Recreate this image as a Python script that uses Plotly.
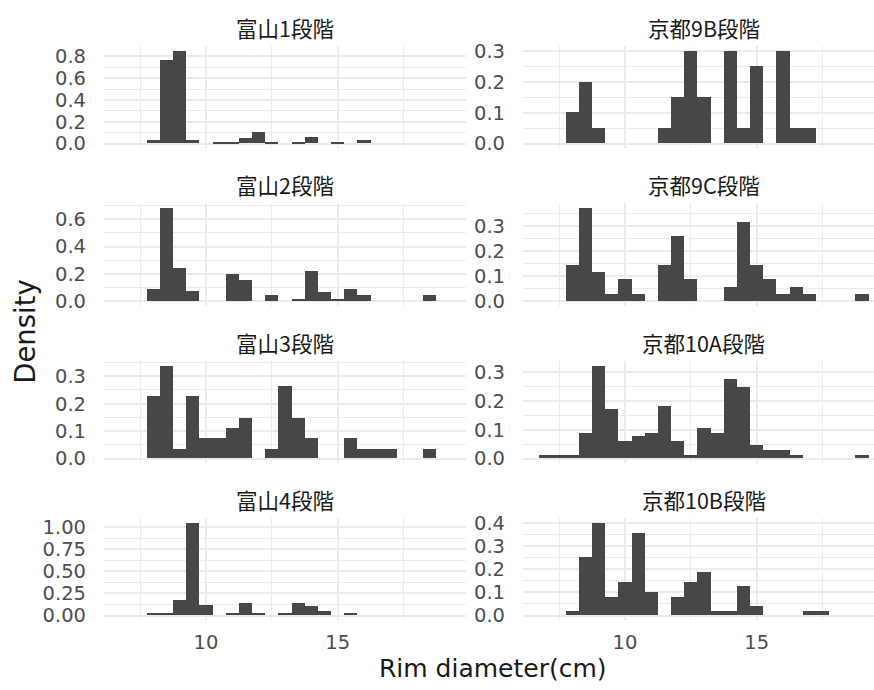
import plotly.graph_objects as go

# Histogram densities (bin width 0.5 cm, bins centred on multiples of 0.5)
toyama1_x = [8.0, 8.5, 9.0, 9.5, 10.5, 11.0, 11.5, 12.0, 12.5, 13.5, 14.0, 15.0, 16.0]
toyama1_y = [0.03, 0.76, 0.85, 0.03, 0.008, 0.008, 0.045, 0.105, 0.008, 0.008, 0.06, 0.006, 0.03]

kyoto9b_x = [8.0, 8.5, 9.0, 11.5, 12.0, 12.5, 13.0, 14.0, 14.5, 15.0, 16.0, 16.5, 17.0]
kyoto9b_y = [0.1, 0.2, 0.05, 0.05, 0.15, 0.3, 0.15, 0.3, 0.05, 0.25, 0.3, 0.05, 0.05]

toyama2_x = [8.0, 8.5, 9.0, 9.5, 11.0, 11.5, 12.5, 13.5, 14.0, 14.5, 15.0, 15.5, 16.0, 18.5]
toyama2_y = [0.089, 0.684, 0.24, 0.07, 0.197, 0.156, 0.043, 0.01, 0.216, 0.067, 0.01, 0.089, 0.043, 0.043]

kyoto9c_x = [8.0, 8.5, 9.0, 9.5, 10.0, 10.5, 11.5, 12.0, 12.5, 14.0, 14.5, 15.0, 15.5, 16.0, 16.5, 17.0, 19.0]
kyoto9c_y = [0.143, 0.371, 0.114, 0.029, 0.086, 0.029, 0.143, 0.257, 0.086, 0.057, 0.314, 0.143, 0.086, 0.029, 0.057, 0.029, 0.029]

toyama3_x = [8.0, 8.5, 9.0, 9.5, 10.0, 10.5, 11.0, 11.5, 12.5, 13.0, 13.5, 14.0, 15.5, 16.0, 16.5, 17.0, 18.5]
toyama3_y = [0.226, 0.338, 0.036, 0.226, 0.074, 0.074, 0.112, 0.149, 0.036, 0.264, 0.149, 0.074, 0.074, 0.036, 0.036, 0.036, 0.036]

kyoto10a_x = [7.0, 7.5, 8.0, 8.5, 9.0, 9.5, 10.0, 10.5, 11.0, 11.5, 12.0, 12.5, 13.0, 13.5, 14.0, 14.5, 15.0, 15.5, 16.0, 16.5, 19.0]
kyoto10a_y = [0.011, 0.011, 0.011, 0.09, 0.323, 0.171, 0.06, 0.077, 0.09, 0.184, 0.06, 0.011, 0.107, 0.09, 0.277, 0.247, 0.045, 0.03, 0.03, 0.011, 0.011]

toyama4_x = [8.0, 8.5, 9.0, 9.5, 10.0, 11.0, 11.5, 12.0, 13.0, 13.5, 14.0, 14.5, 15.5]
toyama4_y = [0.026, 0.026, 0.17, 1.048, 0.118, 0.026, 0.14, 0.026, 0.026, 0.14, 0.11, 0.055, 0.026]

kyoto10b_x = [8.0, 8.5, 9.0, 9.5, 10.0, 10.5, 11.0, 12.0, 12.5, 13.0, 13.5, 14.0, 14.5, 15.0, 17.0, 17.5]
kyoto10b_y = [0.021, 0.25, 0.4, 0.08, 0.146, 0.355, 0.102, 0.08, 0.146, 0.188, 0.017, 0.017, 0.126, 0.04, 0.021, 0.021]

panel_titles = ["富山1段階", "京都9B段階", "富山2段階", "京都9C段階",
                "富山3段階", "京都10A段階", "富山4段階", "京都10B段階"]
panel_x = [toyama1_x, kyoto9b_x, toyama2_x, kyoto9c_x, toyama3_x, kyoto10a_x, toyama4_x, kyoto10b_x]
panel_y = [toyama1_y, kyoto9b_y, toyama2_y, kyoto9c_y, toyama3_y, kyoto10a_y, toyama4_y, kyoto10b_y]
# major y-break step per panel
y_steps = [0.2, 0.1, 0.2, 0.1, 0.1, 0.1, 0.25, 0.1]
y_formats = [".1f", ".1f", ".1f", ".1f", ".1f", ".1f", ".2f", ".1f"]

x_ticks = [10, 15]
x_minor = [7.5, 12.5, 17.5]
BINW = 0.5

W, H = 874, 690
# panel boxes in pixels (right column runs past the page edge)
col_px = [(104, 466), (523, 884)]
row_px = [(41, 145), (201, 305.5), (362, 466), (522, 626)]

BAR = "#474747"
GRID = "#EBEBEB"
LATIN = "DejaVu Sans, Noto Sans CJK JP, sans-serif"
CJK = "Noto Sans CJK JP, sans-serif"

fig = go.Figure()
layout = dict(
    width=W, height=H, margin=dict(l=0, r=0, t=0, b=0),
    plot_bgcolor="white", paper_bgcolor="white", showlegend=False,
    bargap=0, annotations=[],
)

# x range common to all panels (5% expansion around the binned span 6.75..19.25)
xmin, xmax = 6.75, 19.25
pad = 0.05 * (xmax - xmin)
x_lo, x_hi = xmin - pad, xmax + pad

for i in range(8):
    r, c = divmod(i, 2)
    n = i + 1
    xa = "x" if n == 1 else f"x{n}"
    ya = "y" if n == 1 else f"y{n}"
    fig.add_trace(go.Bar(
        x=panel_x[i], y=panel_y[i], width=BINW,
        marker=dict(color=BAR, line=dict(width=0)),
        xaxis=xa, yaxis=ya, hoverinfo="x+y",
    ))

    x0p, x1p = col_px[c]
    y0p, y1p = row_px[r]
    ppu = (col_px[0][1] - col_px[0][0]) / (x_hi - x_lo)
    vis_right = min(x1p, W)
    xr = [x_lo, x_lo + (vis_right - x0p) / ppu]

    ymax = max(panel_y[i])
    yr = [-0.05 * ymax, 1.05 * ymax]
    step = y_steps[i]
    k = 0
    yt = []
    while k * step <= yr[1] + 1e-9:
        yt.append(round(k * step, 4))
        k += 1
    ym = []
    k = 0
    while (k + 0.5) * step <= yr[1]:
        ym.append(round((k + 0.5) * step, 4))
        k += 1

    layout["xaxis" if n == 1 else f"xaxis{n}"] = dict(
        domain=[x0p / W, vis_right / W], range=xr, anchor=ya,
        tickvals=x_ticks, ticktext=[str(v) for v in x_ticks],
        showticklabels=(r == 3), ticks="", showline=False, zeroline=False,
        showgrid=True, gridcolor=GRID, gridwidth=1.8,
        minor=dict(tickvals=x_minor, showgrid=True, gridcolor=GRID, gridwidth=0.9),
        tickfont=dict(family=LATIN, size=19.5, color="#4D4D4D"),
        ticklabelstandoff=8,
        fixedrange=True,
    )
    layout["yaxis" if n == 1 else f"yaxis{n}"] = dict(
        domain=[1 - y1p / H, 1 - y0p / H], range=yr, anchor=xa,
        tickvals=yt, tickformat=y_formats[i],
        ticks="", showline=False, zeroline=False,
        showgrid=True, gridcolor=GRID, gridwidth=1.8,
        minor=dict(tickvals=ym, showgrid=True, gridcolor=GRID, gridwidth=0.9),
        tickfont=dict(family=LATIN, size=19.5, color="#4D4D4D"),
        ticklabelstandoff=17,
        fixedrange=True,
    )
    # facet strip title
    layout["annotations"].append(dict(
        text=panel_titles[i], xref="paper", yref="paper",
        x=((x0p + x1p) / 2) / W, y=1 - (y0p - 19) / H,
        xanchor="center", yanchor="middle", showarrow=False,
        font=dict(family=CJK, size=21.5, color="#1A1A1A"),
    ))

# axis titles
layout["annotations"].append(dict(
    text="Rim diameter(cm)", xref="paper", yref="paper",
    x=493 / W, y=1 - 675 / H, xanchor="center", yanchor="middle",
    showarrow=False, font=dict(family=LATIN, size=25, color="#1A1A1A"),
))
layout["annotations"].append(dict(
    text="Density", xref="paper", yref="paper",
    x=25 / W, y=1 - 332 / H, xanchor="center", yanchor="middle", textangle=-90,
    showarrow=False, font=dict(family=LATIN, size=27.5, color="#1A1A1A"),
))

fig.update_layout(**layout)
fig.write_html("out.html")
